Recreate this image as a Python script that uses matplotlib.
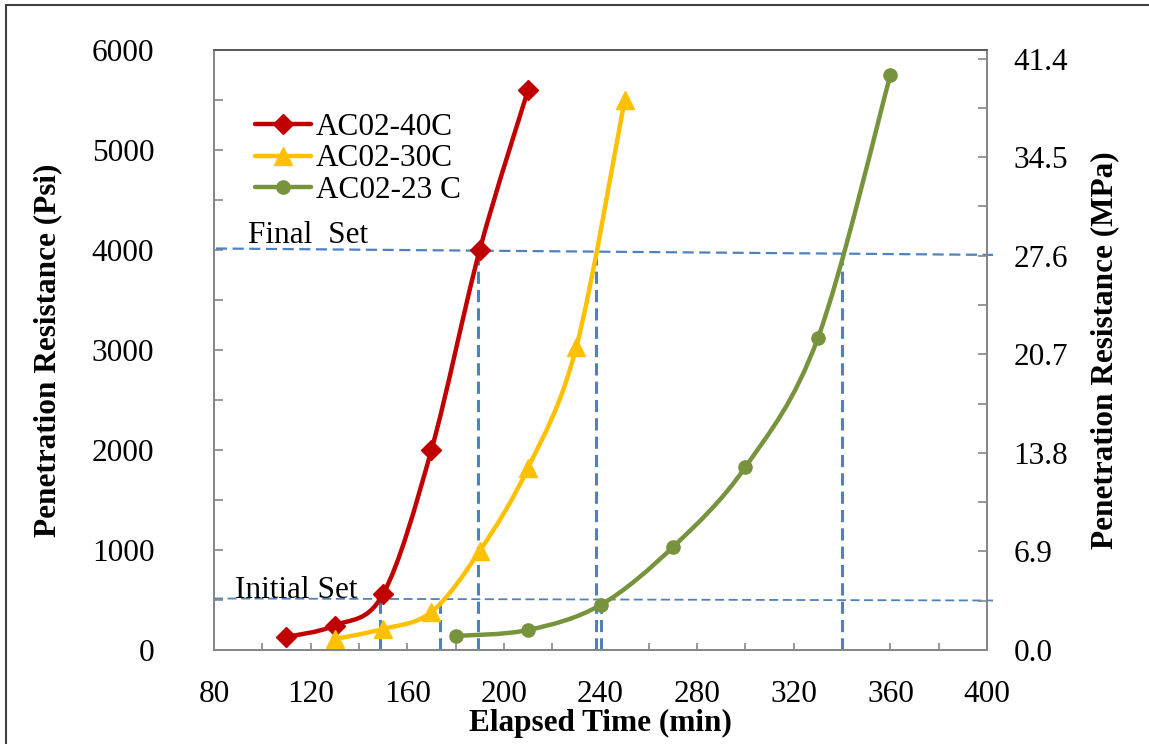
import matplotlib
matplotlib.use("Agg")
import matplotlib.pyplot as plt
from matplotlib.path import Path
from matplotlib.patches import PathPatch, Rectangle
from matplotlib.lines import Line2D
from matplotlib.ticker import MultipleLocator, FormatStrFormatter

plt.rcParams['font.family'] = ['Liberation Serif', 'DejaVu Serif']
FS = 22.5

# data
t_40 = [110, 130, 150, 170, 190, 210]
p_40 = [130, 245, 560, 2000, 4000, 5600]
t_30 = [130, 150, 170, 190, 210, 230, 250]
p_30 = [110, 210, 380, 990, 1820, 3030, 5500]
t_23 = [180, 210, 240, 270, 300, 330, 360]
p_23 = [140, 200, 450, 1030, 1830, 3120, 5750]

labels = ['AC02-40C', 'AC02-30C', 'AC02-23 C']
colors = ['#C00000', '#FFC000', '#77933C']
markers = ['D', '^', 'o']
msizes = [10.5, 12.5, 9.5]

# set-time guide lines (drawn shapes on the original)
final_x = [80.8, 402.5]
final_y = [4015, 3951]
initial_x = [80, 402.5]
initial_y = [515, 495]
vert_x = [148.7, 173.6, 189.3, 238.2, 240.2, 340.0]
vert_top = [515, 515, 4000, 3990, 495, 3960]

mpa_ticks = [0.0, 6.9, 13.8, 20.7, 27.6, 34.5, 41.4]


def smooth_path(xs, ys):
    # excel-like smoothed line: cubic bezier through the points
    verts = [(xs[0], ys[0])]
    codes = [Path.MOVETO]
    n = len(xs)
    for i in range(n - 1):
        x0, y0 = (xs[i - 1], ys[i - 1]) if i > 0 else (xs[i], ys[i])
        x1, y1 = xs[i], ys[i]
        x2, y2 = xs[i + 1], ys[i + 1]
        x3, y3 = (xs[i + 2], ys[i + 2]) if i + 2 < n else (x2, y2)
        c1 = (x1 + (x2 - x0) / 6.0, y1 + (y2 - y0) / 6.0)
        c2 = (x2 - (x3 - x1) / 6.0, y2 - (y3 - y1) / 6.0)
        verts += [c1, c2, (x2, y2)]
        codes += [Path.CURVE4] * 3
    return Path(verts, codes)


fig = plt.figure(figsize=(11.49, 7.44), dpi=100)
ax = fig.add_axes([214 / 1149, 1 - 650 / 744, 773 / 1149, 600 / 744])

series = [(t_40, p_40), (t_30, p_30), (t_23, p_23)]
handles = []
for (xs, ys), lab, c, m, ms in zip(series, labels, colors, markers, msizes):
    ax.add_patch(PathPatch(smooth_path(xs, ys), fill=False, ec=c, lw=3.2,
                           capstyle='round', zorder=3))
    ax.plot(xs, ys, ls='none', marker=m, ms=ms, color=c, mec=c, zorder=4)
    handles.append(Line2D([], [], color=c, lw=3.2, marker=m, ms=ms, mec=c,
                          solid_capstyle='round'))

blue = '#4F81BD'
ax.plot(final_x, final_y, color=blue, lw=1.6, dashes=(5, 2.5), clip_on=False, zorder=2)
ax.plot(initial_x, initial_y, color=blue, lw=1.3, dashes=(5, 2.5), clip_on=False, zorder=2)
for vx, vt in zip(vert_x, vert_top):
    ax.plot([vx, vx], [0, vt], color=blue, lw=2.2, dashes=(4, 2), zorder=2)

ax.text(94.1, 4069, 'Final  Set', fontsize=FS, va='baseline', ha='left')
ax.text(88.7, 525, 'Initial Set', fontsize=FS, va='baseline', ha='left')

ax.set_xlim(80, 400)
ax.set_ylim(0, 6000)
ax.xaxis.set_major_locator(MultipleLocator(40))
ax.xaxis.set_minor_locator(MultipleLocator(20))
ax.yaxis.set_major_locator(MultipleLocator(1000))
ax.yaxis.set_minor_locator(MultipleLocator(500))

ax2 = ax.twinx()
ax2.set_ylim(0, 42)
ax2.set_yticks(mpa_ticks)
ax2.yaxis.set_major_formatter(FormatStrFormatter('%.1f'))
ax2.yaxis.set_minor_locator(MultipleLocator(3.45))

spine_c = '#868686'
for a in (ax, ax2):
    for s in a.spines.values():
        s.set_color(spine_c)
        s.set_linewidth(1.3)
    a.spines['top'].set_color('#595959')
    a.tick_params(which='both', direction='in', color=spine_c, width=1.2, labelsize=FS)

ax.tick_params(axis='y', which='both', length=6.5, pad=43)
ax.tick_params(axis='x', which='both', length=5, pad=21.5)
ax.tick_params(axis='y', which='both', right=False)
ax2.tick_params(axis='y', which='both', length=6.5, pad=19)

ax.set_xlabel('Elapsed Time (min)', fontsize=FS, fontweight='bold', labelpad=0)
ax.set_ylabel('Penetration Resistance (Psi)', fontsize=FS, fontweight='bold', labelpad=21)
ax2.set_ylabel('Penetration Resistance (MPa)', fontsize=FS, fontweight='bold', labelpad=16)

ax.legend(handles, labels, loc='upper left', bbox_to_anchor=(0.053, 0.895),
          frameon=False, fontsize=FS, borderpad=0, borderaxespad=0,
          labelspacing=0.08, handlelength=1.8, handletextpad=0.15)

fig.add_artist(Rectangle((6 / 1149, -0.05), 1.1, 1 - 5 / 744 + 0.05,
                         transform=fig.transFigure, fill=False, ec='#404040',
                         lw=1.5, clip_on=False))

fig.savefig('out.png', dpi=100)
